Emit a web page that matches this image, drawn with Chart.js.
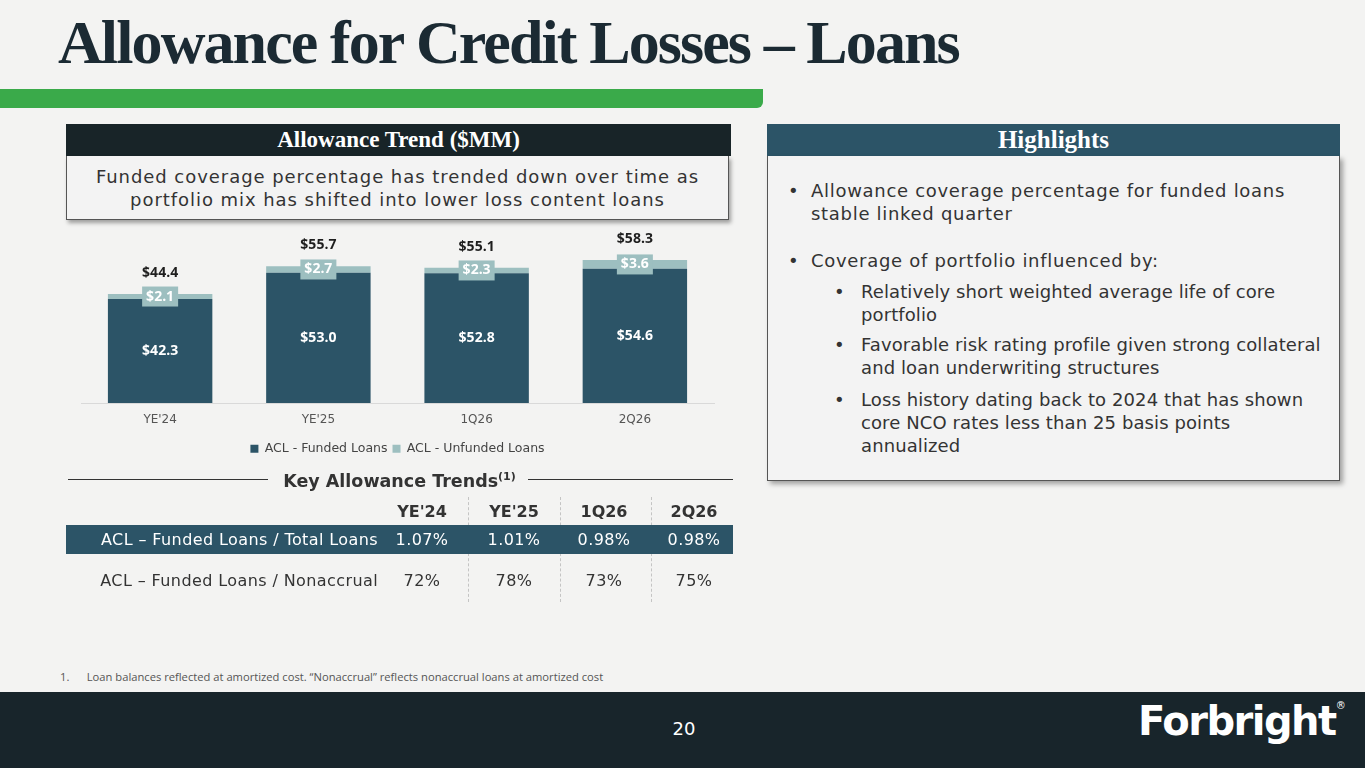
<!DOCTYPE html>
<html>
<head>
<meta charset="utf-8">
<script src="https://cdn.jsdelivr.net/npm/chart.js@4.4.1/dist/chart.umd.min.js"></script>
<style>
  html, body { margin: 0; padding: 0; }
  body { width: 1365px; height: 768px; background: #f3f3f2; position: relative; overflow: hidden; font-family: "DejaVu Sans", sans-serif; color: #333; }
  .abs { position: absolute; }
  #title { left: 58px; top: 11px; font-family: "Liberation Serif", serif; font-weight: bold; font-size: 62px; line-height: 62px; color: #1b2a33; letter-spacing: -1.9px; white-space: nowrap; }
  #greenbar { left: 0; top: 89px; width: 763px; height: 19px; background: #3aaa4a; border-radius: 0 0 6px 0; }
  .hdr { height: 32px; line-height: 32px; text-align: center; color: #fff; font-family: "Liberation Serif", serif; font-weight: bold; }
  #lhdr { left: 66px; top: 124px; width: 665px; background: #182428; font-size: 23px; }
  #lsub { left: 66px; top: 156px; width: 663px; border: 1px solid #555; border-top: none; box-shadow: 2px 3px 4px rgba(0,0,0,0.35); background: #f3f3f3; text-align: center; font-size: 18px; letter-spacing: 0.95px; line-height: 23px; color: #333; padding-top: 9px; box-sizing: border-box; height: 64px; white-space: nowrap; }
  #chartWrap { left: 66px; top: 226px; width: 665px; height: 239px; }
  #rhdr { left: 767px; top: 124px; width: 573px; background: #2c5467; font-size: 25px; }
  #rbox { left: 767px; top: 156px; width: 573px; height: 325px; border: 1px solid #555; border-top: none; box-shadow: 3px 3px 5px rgba(0,0,0,0.35); background: #f3f3f3; box-sizing: border-box; font-size: 18px; line-height: 23px; color: #333; }
  .b1 { position: absolute; left: 43px; width: 520px; white-space: nowrap; letter-spacing: 0.7px; }
  .b2 { position: absolute; left: 93px; width: 470px; white-space: nowrap; letter-spacing: 0.1px; }
  .dot { position: absolute; left: -23px; }
  .b2 .dot { left: -27px; }
  #kat { left: 66px; top: 463px; width: 667px; height: 28px; }
  #kat .line { position: absolute; top: 16px; height: 1px; background: #333; }
  #kat .txt { position: absolute; left: 0; width: 667px; text-align: center; font-weight: bold; font-size: 17.5px; color: #333; line-height: 28px; }
  #tbl { left: 66px; top: 497px; width: 667px; }
  .row { position: absolute; left: 0; width: 667px; height: 29px; line-height: 29px; font-size: 16px; letter-spacing: 0.4px; }
  .row span { position: absolute; top: 0; }
  .lbl { right: 355px; text-align: right; white-space: nowrap; }
  .sep { position: absolute; top: 0; height: 105px; border-left: 1px dashed #c4c4c4; }
  #foot { left: 60px; top: 669px; font-family: "Open Sans", sans-serif; font-size: 11.2px; color: #555; white-space: nowrap; }
  #footer { left: 0; top: 692px; width: 1365px; height: 76px; background: #18252b; }
  #pnum { left: 664px; top: 718px; width: 40px; text-align: center; color: #fff; font-size: 18px; }
  #logo { left: 1138px; top: 698px; color: #fff; font-family: "DejaVu Sans", sans-serif; font-weight: bold; font-size: 40px; letter-spacing: -1.5px; white-space: nowrap; }
  #logo sup { font-size: 10px; font-weight: normal; vertical-align: 26px; }
</style>
</head>
<body>
<div id="title" class="abs">Allowance for Credit Losses – Loans</div>
<div id="greenbar" class="abs"></div>

<div id="lhdr" class="abs hdr">Allowance Trend ($MM)</div>
<div id="lsub" class="abs">Funded coverage percentage has trended down over time as<br>portfolio mix has shifted into lower loss content loans</div>
<div id="chartWrap" class="abs"><canvas id="acl"></canvas></div>

<div id="kat" class="abs">
  <div class="line" style="left:2px;width:200px;"></div>
  <div class="line" style="left:462px;width:205px;"></div>
  <div class="txt">Key Allowance Trends<sup style="font-size:11px;">(1)</sup></div>
</div>
<div id="tbl" class="abs"></div>

<div id="rhdr" class="abs hdr">Highlights</div>
<div id="rbox" class="abs">
  <div class="b1" style="top:23px;"><span class="dot">•</span>Allowance coverage percentage for funded loans<br>stable linked quarter</div>
  <div class="b1" style="top:93px;"><span class="dot">•</span>Coverage of portfolio influenced by:</div>
  <div class="b2" style="top:124px;"><span class="dot">•</span>Relatively short weighted average life of core<br>portfolio</div>
  <div class="b2" style="top:177px;"><span class="dot">•</span>Favorable risk rating profile given strong collateral<br>and loan underwriting structures</div>
  <div class="b2" style="top:232px;"><span class="dot">•</span>Loss history dating back to 2024 that has shown<br>core NCO rates less than 25 basis points<br>annualized</div>
</div>

<div id="foot" class="abs">1.&nbsp;&nbsp;&nbsp;&nbsp;&nbsp;&nbsp;Loan balances reflected at amortized cost. “Nonaccrual” reflects nonaccrual loans at amortized cost</div>
<div id="footer" class="abs"></div>
<div id="pnum" class="abs">20</div>
<div id="logo" class="abs">Forbright<sup>®</sup></div>

<script>
// チャートのデータ
const categories = ["YE'24", "YE'25", "1Q26", "2Q26"];
const fundedLoans = [42.3, 53.0, 52.8, 54.6];
const unfundedLoans = [2.1, 2.7, 2.3, 3.6];
const totalAllowance = [44.4, 55.7, 55.1, 58.3];

// 表のデータ
const trendColumns = ["YE'24", "YE'25", "1Q26", "2Q26"];
const rowLabels = ['ACL – Funded Loans / Total Loans', 'ACL – Funded Loans / Nonaccrual'];
const fundedToTotal = ['1.07%', '1.01%', '0.98%', '0.98%'];
const fundedToNonaccrual = ['72%', '78%', '73%', '75%'];

const FUNDED_COLOR = '#2c5467';
const UNFUNDED_COLOR = '#9dbfc0';

/* =====================
   表
===================== */
const tbl = document.getElementById('tbl');
const colX = [316, 408, 498, 588];
const colW = 80;
let html = '';
[402, 494, 585].forEach(x => { html += '<div class="sep" style="left:' + x + 'px;"></div>'; });
html += '<div class="row" style="top:0px;font-weight:bold;color:#333;letter-spacing:0;">';
trendColumns.forEach((c, i) => { html += '<span style="left:' + colX[i] + 'px;width:' + colW + 'px;text-align:center;">' + c + '</span>'; });
html += '</div>';
const rows = [fundedToTotal, fundedToNonaccrual];
rows.forEach((vals, r) => {
    const top = r === 0 ? 28 : 69;
    const style = r === 0 ? 'background:' + FUNDED_COLOR + ';color:#fff;' : 'color:#333;';
    html += '<div class="row" style="top:' + top + 'px;' + style + '">';
    html += '<span class="lbl">' + rowLabels[r] + '</span>';
    vals.forEach((v, i) => { html += '<span style="left:' + colX[i] + 'px;width:' + colW + 'px;text-align:center;">' + v + '</span>'; });
    html += '</div>';
});
tbl.innerHTML = html;

/* =====================
   ラベル描画プラグイン
===================== */
const barLabelPlugin = {
    id: 'barLabels',
    afterDatasetsDraw: function(chart) {
        const ctx = chart.ctx;
        const funded = chart.getDatasetMeta(0);
        const unfunded = chart.getDatasetMeta(1);
        ctx.save();
        ctx.textAlign = 'center';
        ctx.textBaseline = 'middle';
        funded.data.forEach((bar, i) => {
            ctx.fillStyle = '#fff';
            ctx.font = 'bold 14px "Open Sans", sans-serif';
            ctx.fillText('$' + fundedLoans[i].toFixed(1), bar.x, (bar.y + bar.base) / 2);
        });
        unfunded.data.forEach((bar, i) => {
            const cy = (bar.y + bar.base) / 2;
            ctx.fillStyle = UNFUNDED_COLOR;
            ctx.fillRect(bar.x - 18, cy - 10, 36, 20);
            ctx.fillStyle = '#fff';
            ctx.font = 'bold 14px "Open Sans", sans-serif';
            ctx.fillText('$' + unfundedLoans[i].toFixed(1), bar.x, cy);
            ctx.fillStyle = '#1e1e1e';
            ctx.fillText('$' + totalAllowance[i].toFixed(1), bar.x, bar.y - 21);
        });
        ctx.restore();
    }
};

new Chart(document.getElementById('acl'), {
    type: 'bar',
    data: {
        labels: categories,
        datasets: [
            { label: 'ACL - Funded Loans', data: fundedLoans, backgroundColor: FUNDED_COLOR },
            { label: 'ACL - Unfunded Loans', data: unfundedLoans, backgroundColor: UNFUNDED_COLOR }
        ]
    },
    plugins: [barLabelPlugin],
    options: {
        responsive: true,
        maintainAspectRatio: false,
        animation: false,
        layout: { padding: { left: 15, right: 17, top: 5, bottom: 0 } },
        datasets: { bar: { categoryPercentage: 0.66, barPercentage: 1.0 } },
        plugins: {
            legend: {
                position: 'bottom',
                labels: { boxWidth: 8, boxHeight: 8, color: '#444', font: { size: 12.5, family: '"DejaVu Sans", sans-serif' }, padding: 5 }
            },
            tooltip: { enabled: false }
        },
        scales: {
            x: {
                stacked: true,
                grid: { display: false, drawTicks: false },
                border: { color: '#d9d9d9' },
                ticks: { color: '#555', font: { size: 12, family: '"DejaVu Sans", sans-serif' }, padding: 10 }
            },
            y: { stacked: true, display: false, min: 0, max: 70 }
        }
    }
});
</script>
</body>
</html>
